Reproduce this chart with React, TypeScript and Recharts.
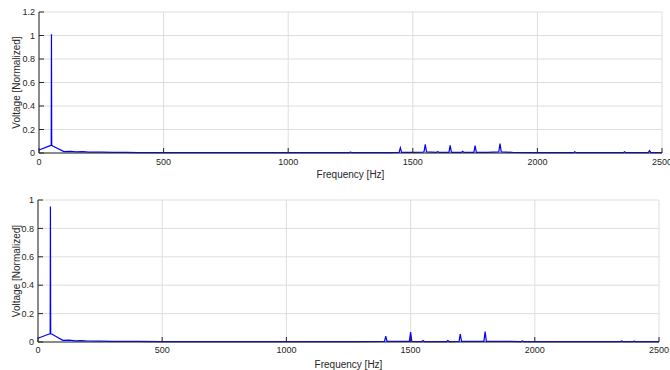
import { LineChart, Line, XAxis, YAxis, CartesianGrid } from 'recharts';

// Spectrum 1 (top panel)
const topFreq = [
  0, 45, 49, 50, 51, 55, 100, 125, 150, 175, 200, 250, 300, 350, 400, 500, 700, 900, 1100,
  1245, 1250, 1255, 1400, 1445, 1450, 1455, 1500, 1540, 1545, 1550, 1555, 1595, 1600, 1605,
  1645, 1650, 1655, 1695, 1700, 1705, 1745, 1750, 1755, 1800, 1845, 1850, 1855, 1900, 2000,
  2145, 2150, 2155, 2345, 2350, 2355, 2445, 2450, 2455, 2500,
];
const topVolt = [
  0.025, 0.063, 0.065, 1.01, 0.065, 0.06, 0.012, 0.014, 0.01, 0.011, 0.008, 0.007, 0.006, 0.005, 0.004, 0.003, 0.003, 0.003, 0.003,
  0.003, 0.008, 0.003, 0.004, 0.006, 0.045, 0.006, 0.005, 0.008, 0.01, 0.073, 0.01, 0.006, 0.012, 0.006,
  0.006, 0.065, 0.006, 0.005, 0.015, 0.005, 0.006, 0.062, 0.006, 0.005, 0.01, 0.08, 0.01, 0.005, 0.004,
  0.003, 0.01, 0.003, 0.003, 0.01, 0.003, 0.003, 0.02, 0.003, 0.003,
];

// Spectrum 2 (bottom panel)
const bottomFreq = [
  0, 45, 49, 50, 51, 55, 100, 125, 150, 175, 200, 250, 300, 350, 400, 500, 700, 900, 1100, 1300,
  1395, 1400, 1405, 1495, 1500, 1505, 1545, 1550, 1555, 1645, 1650, 1655, 1695, 1700, 1705,
  1795, 1800, 1805, 1900, 1945, 1950, 1955, 2100, 2345, 2350, 2355, 2395, 2400, 2405, 2500,
];
const bottomVolt = [
  0.026, 0.056, 0.058, 0.955, 0.058, 0.056, 0.012, 0.013, 0.008, 0.009, 0.007, 0.006, 0.005, 0.004, 0.004, 0.003, 0.003, 0.003, 0.003, 0.003,
  0.004, 0.042, 0.004, 0.005, 0.069, 0.005, 0.003, 0.01, 0.003, 0.003, 0.01, 0.003, 0.004, 0.056, 0.004,
  0.005, 0.073, 0.005, 0.004, 0.003, 0.008, 0.003, 0.003, 0.003, 0.008, 0.003, 0.003, 0.006, 0.003, 0.003,
];

const freqTicks = [0, 500, 1000, 1500, 2000, 2500];
const topVoltTicks = [0, 0.2, 0.4, 0.6, 0.8, 1, 1.2];
const bottomVoltTicks = [0, 0.2, 0.4, 0.6, 0.8, 1];

const FONT = 'Arial, "Liberation Sans", Helvetica, sans-serif';
const TEXT = '#262626';
const AXIS = '#262626';
const GRID = '#dedede';

interface PanelProps {
  freq: number[];
  volt: number[];
  yTicks: number[];
  height: number;
  margin: { top: number; right: number; left: number; bottom: number };
  yAxisWidth: number;
  xAxisHeight: number;
  xTickMargin: number;
  xLabelOffset: number;
  topLine: string;
}

function SpectrumPanel({
  freq, volt, yTicks, height, margin, yAxisWidth, xAxisHeight, xTickMargin, xLabelOffset, topLine,
}: PanelProps) {
  const data = freq.map((f, i) => ({ f, v: volt[i] }));
  const yMax = yTicks[yTicks.length - 1];
  const tickStyle = { fill: TEXT, fontSize: 9, fontFamily: FONT };

  return (
    <LineChart width={670} height={height} data={data} margin={margin}>
      <CartesianGrid stroke={GRID} horizontal vertical />
      <XAxis
        dataKey="f"
        type="number"
        domain={[0, 2500]}
        ticks={freqTicks}
        interval={0}
        height={xAxisHeight}
        tickSize={-5}
        tickMargin={xTickMargin}
        tick={tickStyle}
        stroke={AXIS}
        label={{ value: 'Frequency [Hz]', position: 'insideBottom', offset: xLabelOffset, fill: TEXT, fontSize: 10, fontFamily: FONT }}
      />
      <XAxis
        xAxisId="top"
        orientation="top"
        type="number"
        domain={[0, 2500]}
        ticks={freqTicks}
        height={0}
        tickSize={-5}
        tick={false}
        axisLine={{ stroke: topLine }}
        tickLine={{ stroke: AXIS }}
      />
      <YAxis
        type="number"
        domain={[0, yMax]}
        ticks={yTicks}
        interval={0}
        width={yAxisWidth}
        tickSize={-5}
        tickMargin={9}
        tick={tickStyle}
        stroke={AXIS}
        label={{ value: 'Voltage [Normalized]', angle: -90, position: 'center', dx: -3, fill: TEXT, fontSize: 10, fontFamily: FONT }}
      />
      <YAxis
        yAxisId="right"
        orientation="right"
        type="number"
        domain={[0, yMax]}
        ticks={yTicks}
        width={0}
        tickSize={-5}
        tick={false}
        stroke={AXIS}
      />
      <Line
        type="linear"
        dataKey="v"
        stroke="#0000ff"
        strokeWidth={1.2}
        dot={false}
        isAnimationActive={false}
      />
    </LineChart>
  );
}

export default function App() {
  return (
    <div style={{ position: 'absolute', left: 0, top: 0, width: 670, height: 370, background: '#fff', fontFamily: FONT }}>
      <SpectrumPanel
        freq={topFreq}
        volt={topVolt}
        yTicks={topVoltTicks}
        height={185}
        margin={{ top: 12, right: 8, left: 0, bottom: 0 }}
        yAxisWidth={39}
        xAxisHeight={32}
        xTickMargin={11}
        xLabelOffset={7}
        topLine="#b4b4b4"
      />
      <SpectrumPanel
        freq={bottomFreq}
        volt={bottomVolt}
        yTicks={bottomVoltTicks}
        height={185}
        margin={{ top: 15, right: 11, left: 0, bottom: 0 }}
        yAxisWidth={38}
        xAxisHeight={28}
        xTickMargin={10}
        xLabelOffset={2}
        topLine={AXIS}
      />
    </div>
  );
}
